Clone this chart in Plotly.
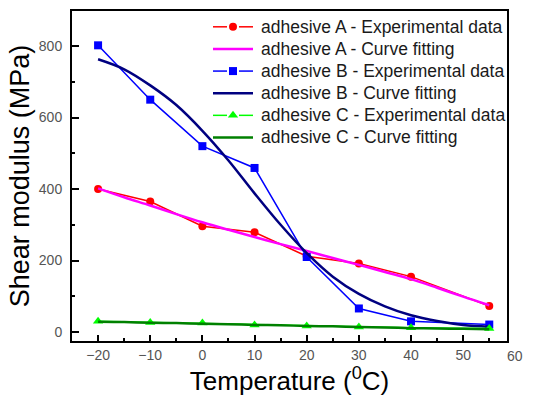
import plotly.graph_objects as go

temps = [-20, -10, 0, 10, 20, 30, 40, 55]
a_exp = [400, 365, 296, 279, 212, 192, 155, 73]
b_exp = [802, 650, 520, 459, 210, 66, 30, 21]
c_exp = [30, 27, 25, 20, 17, 14, 12, 10]

fit_temps = [-20, -15, -10, -5, 0, 5, 10, 15, 20, 25, 30, 35, 40, 45, 50, 55]
a_fit = [402, 377, 354, 330, 307, 286, 266, 246, 227, 207, 188, 168, 148, 124, 99, 75]
b_fit = [763, 735, 690, 635, 563, 480, 388, 300, 221, 155, 107, 72, 47, 31, 20, 15]
c_fit = [29, 28, 26, 25, 23, 22, 20, 19, 17, 16, 14, 13, 11, 10, 9, 8]

x_ticks = [-20, -10, 0, 10, 20, 30, 40, 50]
extra_x_tick = 60
y_ticks = [0, 200, 400, 600, 800]
x_range = [-25, 58.4]
y_range = [-25, 898]

names = ["adhesive A - Experimental data", "adhesive A - Curve fitting",
         "adhesive B - Experimental data", "adhesive B - Curve fitting",
         "adhesive C - Experimental data", "adhesive C - Curve fitting"]
colors = ["#ff0000", "#ff00ff", "#0000ff", "#000080", "#00ff00", "#008000"]
symbols = ["circle", None, "square", None, "triangle-up", None]

font_family = "Liberation Sans, Arial, sans-serif"
W, H = 533, 399
ML, MR, MT, MB = 72, 26, 9, 56
plot_w = W - ML - MR

fig = go.Figure()
series = [(temps, a_exp), (fit_temps, a_fit), (temps, b_exp), (fit_temps, b_fit), (temps, c_exp), (fit_temps, c_fit)]
for i, (xs, ys) in enumerate(series):
    if symbols[i]:
        fig.add_trace(go.Scatter(x=xs, y=ys, mode="lines+markers", name=names[i],
                                 line=dict(color=colors[i], width=1.5),
                                 marker=dict(symbol=symbols[i], size=9 if symbols[i] == "triangle-up" else 8, color=colors[i])))
    else:
        fig.add_trace(go.Scatter(x=xs, y=ys, mode="lines", name=names[i],
                                 line=dict(color=colors[i], width=2.5, shape="spline")))

# custom legend drawn on a pixel-unit overlay axis
lx0, lx1, ltext = 213, 253, 259
ly0, lstep = 25, 22.4
annotations = []
for i in range(6):
    yy = ly0 + i * lstep
    cx = (lx0 + lx1) / 2
    if symbols[i]:
        fig.add_trace(go.Scatter(x=[lx0, cx - 6, None, cx + 6, lx1], y=[yy, yy, None, yy, yy], mode="lines",
                                 xaxis="x2", yaxis="y2", showlegend=False, hoverinfo="skip",
                                 line=dict(color=colors[i], width=1.5)))
        fig.add_trace(go.Scatter(x=[cx], y=[yy], mode="markers", xaxis="x2", yaxis="y2", showlegend=False,
                                 hoverinfo="skip",
                                 marker=dict(symbol=symbols[i], size=9 if symbols[i] == "triangle-up" else 8, color=colors[i])))
    else:
        fig.add_trace(go.Scatter(x=[lx0, lx1], y=[yy, yy], mode="lines", xaxis="x2", yaxis="y2",
                                 showlegend=False, hoverinfo="skip", line=dict(color=colors[i], width=2.5)))
    annotations.append(dict(x=ltext, y=yy, xref="x2", yref="y2", text=names[i], showarrow=False,
                            xanchor="left", yanchor="middle",
                            font=dict(family=font_family, size=17.5, color="#1a1a1a")))

# the "60" tick label that sits beyond the frame
annotations.append(dict(x=1, y=0, xref="paper", yref="paper",
                        xshift=(extra_x_tick - x_range[1]) / (x_range[1] - x_range[0]) * plot_w,
                        text=str(extra_x_tick), showarrow=False, xanchor="center", yanchor="top", yshift=-5,
                        font=dict(family=font_family, size=14, color="#555555")))

fig.update_layout(
    width=W, height=H,
    margin=dict(l=ML, r=MR, t=MT, b=MB),
    paper_bgcolor="white", plot_bgcolor="white",
    font=dict(family=font_family, color="#000000"),
    showlegend=False,
    annotations=annotations,
    xaxis=dict(range=x_range, tickvals=x_ticks,
               ticks="inside", ticklen=6, tickwidth=1.5, tickcolor="black",
               minor=dict(ticks="inside", ticklen=3, tickwidth=1.5, dtick=5, tick0=-25, tickcolor="black"),
               showline=True, linewidth=2, linecolor="black", mirror=True, showgrid=False, zeroline=False,
               tickfont=dict(family=font_family, size=14, color="#555555"),
               title=dict(text="Temperature (<sup>0</sup>C)", font=dict(family=font_family, size=26, color="#000000"), standoff=9)),
    yaxis=dict(range=y_range, tickvals=y_ticks,
               ticks="inside", ticklen=7, tickwidth=1.5, tickcolor="black",
               minor=dict(ticks="inside", ticklen=3, tickwidth=1.5, dtick=100, tick0=0, tickcolor="black"),
               showline=True, linewidth=2, linecolor="black", mirror=True, showgrid=False, zeroline=False,
               tickfont=dict(family=font_family, size=14, color="#555555"),
               ticklabelstandoff=5,
               title=dict(text="Shear modulus (MPa)", font=dict(family=font_family, size=27, color="#000000"), standoff=1)),
    xaxis2=dict(overlaying="x", anchor="y2", range=[ML, W - MR], visible=False, fixedrange=True),
    yaxis2=dict(overlaying="y", anchor="x2", range=[H - MB, MT], visible=False, fixedrange=True),
)

fig.write_html("out.html")
